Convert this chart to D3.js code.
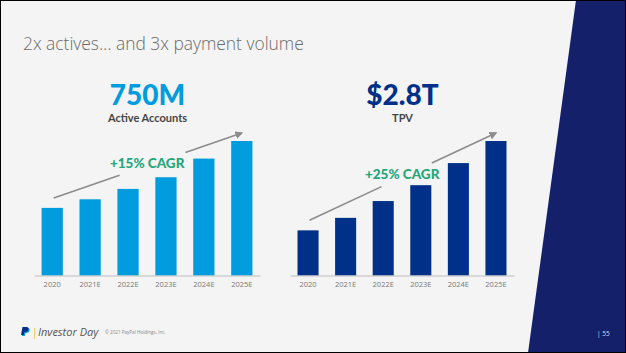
<!DOCTYPE html>
<html>
<head>
<meta charset="utf-8">
<script src="https://cdn.jsdelivr.net/npm/d3@7"></script>
<style>
  html, body { margin: 0; padding: 0; background: #f4f4f4; }
  svg { display: block; }
</style>
</head>
<body>
<script>
// chart data
const years = ['2020', '2021E', '2022E', '2023E', '2024E', '2025E'];
const activeAccounts = [377, 425, 483, 548, 652, 750];   // millions
const tpv = [0.94, 1.20, 1.55, 1.88, 2.34, 2.80];         // trillions
const headlines = ['750M', '$2.8T'];
const subtitles = ['Active Accounts', 'TPV'];
const cagrLabels = ['+15% CAGR', '+25% CAGR'];

const W = 626, H = 353;
const svg = d3.select('body').append('svg')
    .attr('width', W)
    .attr('height', H);

svg.append('rect')
    .attr('width', W).attr('height', H)
    .attr('fill', '#f4f4f4');

// navy slanted panel on the right
svg.append('path')
    .attr('d', `M576,0 L${W},0 L${W},${H} L528,${H} Z`)
    .attr('fill', '#15206b');

svg.append('text')
    .attr('x', 23).attr('y', 49.5)
    .attr('font-family', 'Open Sans, sans-serif')
    .attr('font-weight', 300)
    .attr('font-size', 17.4)
    .attr('fill', '#6b6b6b')
    .text('2x actives\u2026 and 3x payment volume');

let defs = svg.append('defs');
defs.append('marker')
    .attr('id', 'arrowhead')
    .attr('viewBox', '0 0 10 10')
    .attr('refX', 8).attr('refY', 5)
    .attr('markerWidth', 5).attr('markerHeight', 5)
    .attr('orient', 'auto')
    .append('path')
    .attr('d', 'M0,0 L10,5 L0,10 Z')
    .attr('fill', '#8c8c8c');

const baseline = 275.5, plotTop = 141;

const panels = [
    { values: activeAccounts, color: '#009cde', range: [34, 260], gap: [0.35, 0.70], textColor: '#009cde' },
    { values: tpv, color: '#003087', range: [290, 514], gap: [0.386, 0.656], textColor: '#003087' }
];

panels.forEach((p, i) => {
    const x = d3.scaleBand()
        .domain(years)
        .range(p.range)
        .paddingInner(0.44)
        .paddingOuter(0.2);
    const y = d3.scaleLinear()
        .domain([0, d3.max(p.values)])
        .range([baseline, plotTop]);

    const cx = (p.range[0] + p.range[1]) / 2 + 0.5;
    const g = svg.append('g').classed('panel', true);

    g.append('text')
        .attr('x', cx).attr('y', 104.5)
        .attr('text-anchor', 'middle')
        .attr('font-family', 'Lato, sans-serif')
        .attr('font-weight', 900)
        .attr('font-size', 28)
        .attr('fill', p.textColor)
        .text(headlines[i]);

    g.append('text')
        .attr('x', cx).attr('y', 121.5)
        .attr('text-anchor', 'middle')
        .attr('font-family', 'Lato, sans-serif')
        .attr('font-weight', 700)
        .attr('font-size', 11)
        .attr('fill', '#454545')
        .text(subtitles[i]);

    g.selectAll('.bar')
        .data(p.values)
        .enter()
        .append('rect')
        .classed('bar', true)
        .attr('x', (d, j) => x(years[j]))
        .attr('y', d => y(d))
        .attr('width', x.bandwidth())
        .attr('height', d => baseline - y(d))
        .attr('fill', p.color);

    const xAxis = d3.axisBottom(x).tickSize(0).tickPadding(6);
    const axisG = g.append('g')
        .attr('transform', `translate(0,${baseline})`)
        .call(xAxis);
    axisG.select('.domain').attr('stroke', '#bdbdbd').attr('stroke-width', 1);
    axisG.selectAll('text')
        .attr('font-family', 'Open Sans, sans-serif')
        .attr('font-size', 7.5)
        .attr('fill', '#777');

    // CAGR arrow, anchored above first and last bars
    const n = years.length - 1;
    const x0 = x(years[0]) + x.bandwidth() / 2 + 1.5;
    const y0 = y(p.values[0]) - 10;
    const x1 = x(years[n]) + x.bandwidth() / 2;
    const y1 = y(p.values[n]) - 8;
    const at = t => [x0 + (x1 - x0) * t, y0 + (y1 - y0) * t];

    const a = at(p.gap[0]), b = at(p.gap[1]);
    g.append('line')
        .attr('x1', x0).attr('y1', y0)
        .attr('x2', a[0]).attr('y2', a[1])
        .attr('stroke', '#8c8c8c').attr('stroke-width', 1.6);
    g.append('line')
        .attr('x1', b[0]).attr('y1', b[1])
        .attr('x2', x1).attr('y2', y1)
        .attr('stroke', '#8c8c8c').attr('stroke-width', 1.6)
        .attr('marker-end', 'url(#arrowhead)');

    const mid = at(0.497);
    g.append('text')
        .attr('x', mid[0]).attr('y', mid[1] + 2.5)
        .attr('text-anchor', 'middle')
        .attr('font-family', 'Lato, sans-serif')
        .attr('font-weight', 900)
        .attr('font-size', 13.5)
        .attr('fill', '#23a67b')
        .text(cagrLabels[i]);
});

// footer
const foot = svg.append('g');
foot.append('path')
    .attr('d', 'M23.5,328 L27.5,328 Q30,328 29.6,330.6 Q29.1,333 26.6,333 L25.4,333 L24.8,336 L22,336 Z')
    .attr('fill', '#009cde');
foot.append('path')
    .attr('d', 'M22.5,327 L26.5,327 Q29,327 28.6,329.6 Q28.1,332 25.6,332 L24.4,332 L23.8,335 L21,335 Z')
    .attr('fill', '#003087');
foot.append('text')
    .attr('x', 32).attr('y', 335.5)
    .attr('font-family', 'Open Sans, sans-serif')
    .attr('font-size', 10)
    .attr('fill', '#f5b21b')
    .text('|');
foot.append('text')
    .attr('x', 38).attr('y', 335.5)
    .attr('font-family', 'Open Sans, sans-serif')
    .attr('font-style', 'italic')
    .attr('font-size', 11)
    .attr('fill', '#555')
    .text('Investor Day');
foot.append('text')
    .attr('x', 105).attr('y', 334)
    .attr('font-family', 'Open Sans, sans-serif')
    .attr('font-size', 4.6)
    .attr('fill', '#888')
    .text('\u00a9 2021 PayPal Holdings, Inc.');
svg.append('text')
    .attr('x', 597).attr('y', 335.5)
    .attr('font-family', 'Open Sans, sans-serif')
    .attr('font-size', 6.5)
    .attr('fill', '#d8dbe8')
    .text('| 55');

svg.append('rect')
    .attr('x', 0.5).attr('y', 0.5)
    .attr('width', W - 1).attr('height', H - 1)
    .attr('fill', 'none')
    .attr('stroke', '#000')
    .attr('stroke-width', 1);
</script>
</body>
</html>
